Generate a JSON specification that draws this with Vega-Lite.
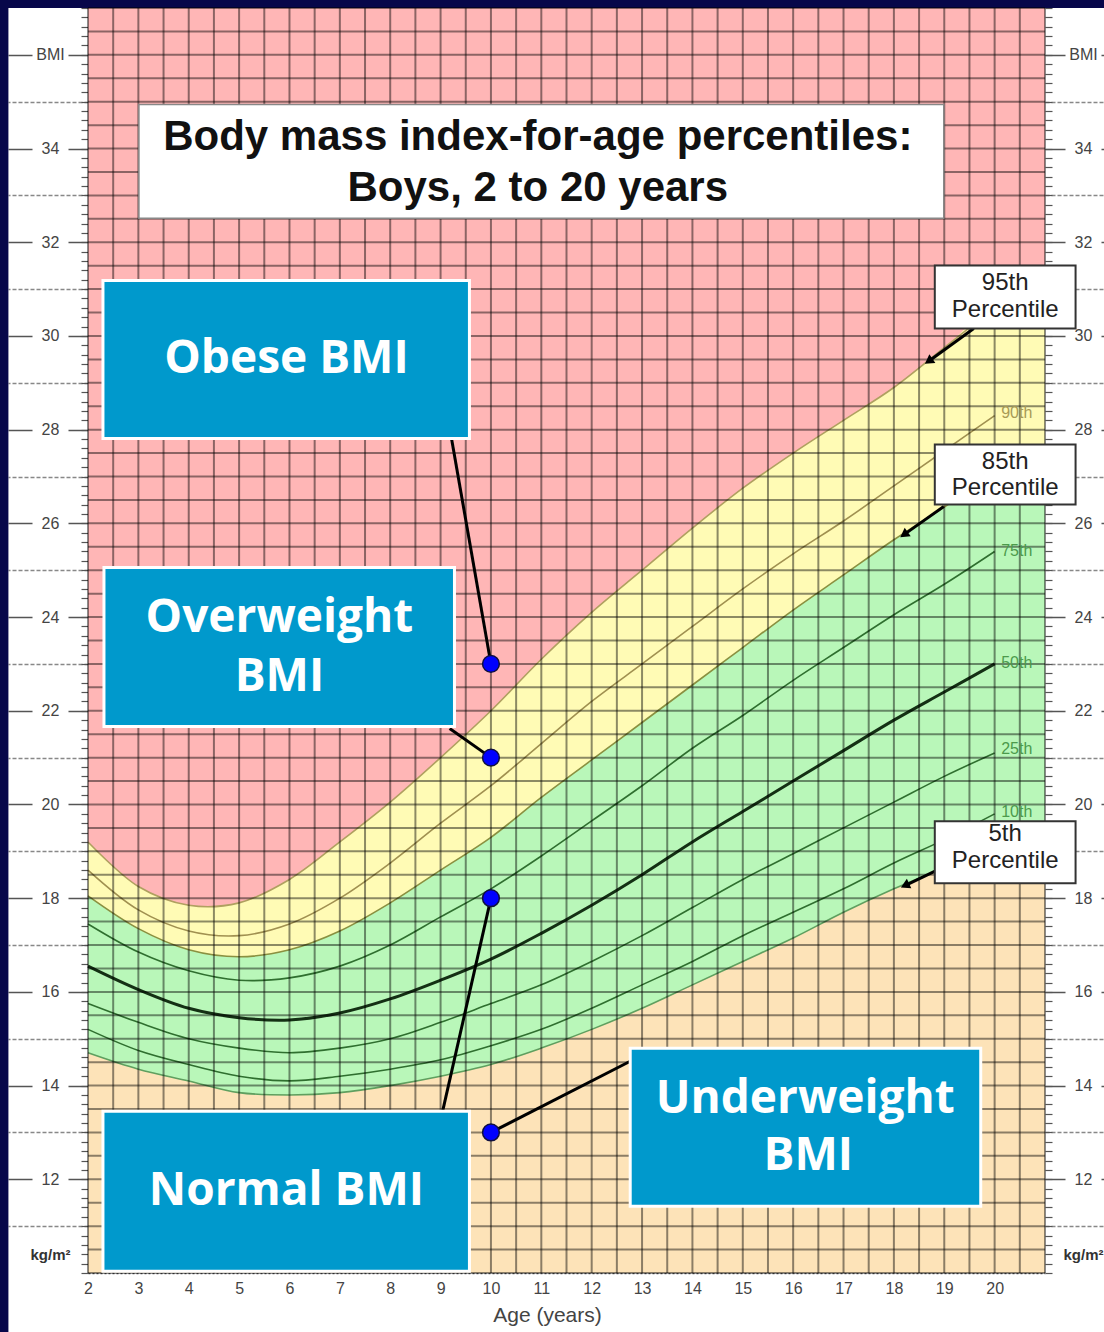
{
  "$schema": "https://vega.github.io/schema/vega-lite/v6.json",
  "width": 957,
  "height": 1265,
  "autosize": {"type": "none"},
  "padding": {"left": 88, "top": 8, "right": 59, "bottom": 59},
  "background": "white",
  "config": {"view": {"stroke": null}, "font": "Liberation Sans"},
  "datasets": {
    "pct": [
      {"age": 2, "p5": 14.7, "p10": 15.2, "p25": 15.75, "p50": 16.55, "p75": 17.45, "p85": 18.05, "p90": 18.6, "p95": 19.2},
      {"age": 3, "p5": 14.35, "p10": 14.75, "p25": 15.35, "p50": 16.05, "p75": 16.85, "p85": 17.35, "p90": 17.75, "p95": 18.25},
      {"age": 4, "p5": 14.1, "p10": 14.45, "p25": 15.0, "p50": 15.65, "p75": 16.45, "p85": 16.9, "p90": 17.3, "p95": 17.85},
      {"age": 5, "p5": 13.85, "p10": 14.2, "p25": 14.8, "p50": 15.45, "p75": 16.25, "p85": 16.75, "p90": 17.2, "p95": 17.9},
      {"age": 6, "p5": 13.8, "p10": 14.1, "p25": 14.7, "p50": 15.4, "p75": 16.3, "p85": 16.9, "p90": 17.45, "p95": 18.4},
      {"age": 7, "p5": 13.85, "p10": 14.2, "p25": 14.8, "p50": 15.55, "p75": 16.55, "p85": 17.3, "p90": 18.0, "p95": 19.2},
      {"age": 8, "p5": 14.0, "p10": 14.35, "p25": 15.0, "p50": 15.85, "p75": 17.0, "p85": 17.9, "p90": 18.75, "p95": 20.05},
      {"age": 9, "p5": 14.2, "p10": 14.55, "p25": 15.35, "p50": 16.25, "p75": 17.6, "p85": 18.6, "p90": 19.6, "p95": 21.0},
      {"age": 10, "p5": 14.45, "p10": 14.85, "p25": 15.75, "p50": 16.7, "p75": 18.2, "p85": 19.3, "p90": 20.4, "p95": 22.0},
      {"age": 11, "p5": 14.8, "p10": 15.2, "p25": 16.15, "p50": 17.25, "p75": 18.9, "p85": 20.15, "p90": 21.3, "p95": 23.1},
      {"age": 12, "p5": 15.2, "p10": 15.65, "p25": 16.65, "p50": 17.85, "p75": 19.65, "p85": 20.95, "p90": 22.2, "p95": 24.1},
      {"age": 13, "p5": 15.65, "p10": 16.15, "p25": 17.2, "p50": 18.5, "p75": 20.4, "p85": 21.75, "p90": 23.0, "p95": 25.0},
      {"age": 14, "p5": 16.15, "p10": 16.65, "p25": 17.8, "p50": 19.2, "p75": 21.2, "p85": 22.55, "p90": 23.8, "p95": 25.9},
      {"age": 15, "p5": 16.65, "p10": 17.2, "p25": 18.4, "p50": 19.85, "p75": 21.9, "p85": 23.35, "p90": 24.6, "p95": 26.75},
      {"age": 16, "p5": 17.15, "p10": 17.7, "p25": 18.95, "p50": 20.5, "p75": 22.65, "p85": 24.15, "p90": 25.35, "p95": 27.5},
      {"age": 17, "p5": 17.7, "p10": 18.2, "p25": 19.5, "p50": 21.15, "p75": 23.35, "p85": 24.9, "p90": 26.05, "p95": 28.2},
      {"age": 18, "p5": 18.2, "p10": 18.75, "p25": 20.05, "p50": 21.8, "p75": 24.05, "p85": 25.65, "p90": 26.8, "p95": 28.9},
      {"age": 19, "p5": 18.65, "p10": 19.25, "p25": 20.6, "p50": 22.4, "p75": 24.7, "p85": 26.35, "p90": 27.55, "p95": 29.75},
      {"age": 20, "p5": 19.1, "p10": 19.8, "p25": 21.1, "p50": 23.0, "p75": 25.4, "p85": 27.05, "p90": 28.3, "p95": 30.6},
      {"age": 21, "p5": 19.1, "p10": 19.8, "p25": 21.1, "p50": 23.0, "p75": 25.4, "p85": 27.05, "p90": 28.3, "p95": 30.6}
    ],
    "gx": [
      {"v": 2}, {"v": 2.5}, {"v": 3}, {"v": 3.5}, {"v": 4}, {"v": 4.5}, {"v": 5}, {"v": 5.5}, {"v": 6}, {"v": 6.5},
      {"v": 7}, {"v": 7.5}, {"v": 8}, {"v": 8.5}, {"v": 9}, {"v": 9.5}, {"v": 10}, {"v": 10.5}, {"v": 11}, {"v": 11.5},
      {"v": 12}, {"v": 12.5}, {"v": 13}, {"v": 13.5}, {"v": 14}, {"v": 14.5}, {"v": 15}, {"v": 15.5}, {"v": 16}, {"v": 16.5},
      {"v": 17}, {"v": 17.5}, {"v": 18}, {"v": 18.5}, {"v": 19}, {"v": 19.5}, {"v": 20}, {"v": 20.5}, {"v": 21}
    ],
    "gy": [
      {"v": 10}, {"v": 10.5}, {"v": 11}, {"v": 11.5}, {"v": 12}, {"v": 12.5}, {"v": 13}, {"v": 13.5}, {"v": 14}, {"v": 14.5},
      {"v": 15}, {"v": 15.5}, {"v": 16}, {"v": 16.5}, {"v": 17}, {"v": 17.5}, {"v": 18}, {"v": 18.5}, {"v": 19}, {"v": 19.5},
      {"v": 20}, {"v": 20.5}, {"v": 21}, {"v": 21.5}, {"v": 22}, {"v": 22.5}, {"v": 23}, {"v": 23.5}, {"v": 24}, {"v": 24.5},
      {"v": 25}, {"v": 25.5}, {"v": 26}, {"v": 26.5}, {"v": 27}, {"v": 27.5}, {"v": 28}, {"v": 28.5}, {"v": 29}, {"v": 29.5},
      {"v": 30}, {"v": 30.5}, {"v": 31}, {"v": 31.5}, {"v": 32}, {"v": 32.5}, {"v": 33}, {"v": 33.5}, {"v": 34}, {"v": 34.5},
      {"v": 35}, {"v": 35.5}, {"v": 36}, {"v": 36.5}, {"v": 37}
    ]
  },
  "layer": [
    {
      "data": {"values": [{}]},
      "mark": {"type": "rect", "color": "#07074a"},
      "encoding": {
        "x": {"datum": -3, "type": "quantitative", "scale": {"domain": [2, 21], "nice": false, "zero": false}, "axis": null},
        "x2": {"datum": 0.42},
        "y": {"datum": 0, "type": "quantitative", "scale": {"domain": [10, 37], "nice": false, "zero": false}, "axis": null},
        "y2": {"datum": 45}
      }
    },
    {
      "data": {"values": [{}]},
      "mark": {"type": "rect", "color": "#07074a"},
      "encoding": {
        "x": {"datum": -3, "type": "quantitative", "scale": {"domain": [2, 21], "nice": false, "zero": false}, "axis": null},
        "x2": {"datum": 26},
        "y": {"datum": 37, "type": "quantitative", "scale": {"domain": [10, 37], "nice": false, "zero": false}, "axis": null},
        "y2": {"datum": 45}
      }
    },
    {
      "data": {"values": [{}]},
      "mark": {"type": "rect", "color": "#FDE3B8"},
      "encoding": {
        "x": {"datum": 2, "type": "quantitative", "scale": {"domain": [2, 21], "nice": false, "zero": false}, "axis": null},
        "x2": {"datum": 21},
        "y": {"datum": 10, "type": "quantitative", "scale": {"domain": [10, 37], "nice": false, "zero": false}, "axis": null},
        "y2": {"datum": 37}
      }
    },
    {
      "data": {"name": "pct"},
      "mark": {"type": "area", "color": "#B9F7B9", "interpolate": "catmull-rom"},
      "encoding": {
        "x": {"field": "age", "type": "quantitative", "scale": {"domain": [2, 21], "nice": false, "zero": false}, "axis": null},
        "y": {"field": "p5", "type": "quantitative", "scale": {"domain": [10, 37], "nice": false, "zero": false}, "axis": null},
        "y2": {"field": "p85"}
      }
    },
    {
      "data": {"name": "pct"},
      "mark": {"type": "area", "color": "#FFFBB5", "interpolate": "catmull-rom"},
      "encoding": {
        "x": {"field": "age", "type": "quantitative", "scale": {"domain": [2, 21], "nice": false, "zero": false}, "axis": null},
        "y": {"field": "p85", "type": "quantitative", "scale": {"domain": [10, 37], "nice": false, "zero": false}, "axis": null},
        "y2": {"field": "p95"}
      }
    },
    {
      "data": {"name": "pct"},
      "mark": {"type": "area", "color": "#FFB6B6", "interpolate": "catmull-rom"},
      "encoding": {
        "x": {"field": "age", "type": "quantitative", "scale": {"domain": [2, 21], "nice": false, "zero": false}, "axis": null},
        "y": {"field": "p95", "type": "quantitative", "scale": {"domain": [10, 37], "nice": false, "zero": false}, "axis": null},
        "y2": {"datum": 37}
      }
    },
    {
      "data": {"name": "pct"},
      "transform": [
        {"filter": "datum.age <= 20"},
        {"fold": ["p5", "p10", "p25", "p75", "p85", "p90", "p95"], "as": ["k", "val"]}
      ],
      "mark": {"type": "line", "interpolate": "catmull-rom", "strokeWidth": 1.6},
      "encoding": {
        "x": {"field": "age", "type": "quantitative", "scale": {"domain": [2, 21], "nice": false, "zero": false}, "axis": null},
        "y": {"field": "val", "type": "quantitative", "scale": {"domain": [10, 37], "nice": false, "zero": false}, "axis": null},
        "color": {
          "field": "k", "type": "nominal", "legend": null,
          "scale": {"domain": ["p5", "p10", "p25", "p75", "p85", "p90", "p95"], "range": ["#5f9f5f", "#2f6f2f", "#2f6f2f", "#2f6f2f", "#8a9040", "#a09050", "#b0a060"]}
        }
      }
    },
    {
      "data": {"name": "pct"},
      "transform": [{"filter": "datum.age <= 20"}],
      "mark": {"type": "line", "interpolate": "catmull-rom", "strokeWidth": 3, "color": "#143014"},
      "encoding": {
        "x": {"field": "age", "type": "quantitative", "scale": {"domain": [2, 21], "nice": false, "zero": false}, "axis": null},
        "y": {"field": "p50", "type": "quantitative", "scale": {"domain": [10, 37], "nice": false, "zero": false}, "axis": null}
      }
    },
    {
      "data": {"name": "gx"},
      "mark": {"type": "rule", "color": "#000000", "opacity": 0.45, "strokeWidth": 2},
      "encoding": {
        "x": {"field": "v", "type": "quantitative", "scale": {"domain": [2, 21], "nice": false, "zero": false}, "axis": null}
      }
    },
    {
      "data": {"name": "gy"},
      "mark": {"type": "rule", "color": "#000000", "opacity": 0.45, "strokeWidth": 2},
      "encoding": {
        "y": {"field": "v", "type": "quantitative", "scale": {"domain": [10, 37], "nice": false, "zero": false}, "axis": null}
      }
    },
    {
      "data": {"values": [{"x1": 3.011, "x2": 18.99, "y1": 32.51, "y2": 34.94}]},
      "mark": {"type": "rect", "fill": "white", "stroke": "#888888", "strokeWidth": 1.5},
      "encoding": {
        "x": {"field": "x1", "type": "quantitative", "scale": {"domain": [2, 21], "nice": false, "zero": false}, "axis": null},
        "x2": {"field": "x2"},
        "y": {"field": "y1", "type": "quantitative", "scale": {"domain": [10, 37], "nice": false, "zero": false}, "axis": null},
        "y2": {"field": "y2"}
      }
    },
    {
      "data": {"values": [
        {"a": 10.93, "b": 34.24, "t": "Body mass index-for-age percentiles:"},
        {"a": 10.93, "b": 33.15, "t": "Boys, 2 to 20 years"}
      ]},
      "mark": {"type": "text", "font": "Liberation Sans", "fontWeight": "bold", "fontSize": 42, "color": "#111111", "align": "center", "baseline": "middle"},
      "encoding": {
        "x": {"field": "a", "type": "quantitative", "scale": {"domain": [2, 21], "nice": false, "zero": false}, "axis": null},
        "y": {"field": "b", "type": "quantitative", "scale": {"domain": [10, 37], "nice": false, "zero": false}, "axis": null},
        "text": {"field": "t"}
      }
    },
    {
      "data": {"values": [
        {"x1": 9.217, "y1": 27.81, "x2": 10, "y2": 23},
        {"x1": 9.18, "y1": 21.62, "x2": 10, "y2": 21},
        {"x1": 9.04, "y1": 13.45, "x2": 10, "y2": 18},
        {"x1": 12.765, "y1": 14.52, "x2": 10, "y2": 13}
      ]},
      "mark": {"type": "rule", "color": "#000000", "strokeWidth": 3},
      "encoding": {
        "x": {"field": "x1", "type": "quantitative", "scale": {"domain": [2, 21], "nice": false, "zero": false}, "axis": null},
        "x2": {"field": "x2"},
        "y": {"field": "y1", "type": "quantitative", "scale": {"domain": [10, 37], "nice": false, "zero": false}, "axis": null},
        "y2": {"field": "y2"}
      }
    },
    {
      "data": {"values": [
        {"x1": 2.297, "x2": 9.573, "y1": 27.81, "y2": 31.185},
        {"x1": 2.317, "x2": 9.276, "y1": 21.667, "y2": 25.06},
        {"x1": 2.297, "x2": 9.573, "y1": 10.037, "y2": 13.451},
        {"x1": 12.765, "x2": 19.724, "y1": 11.424, "y2": 14.796}
      ]},
      "mark": {"type": "rect", "fill": "#0099CC", "stroke": "white", "strokeWidth": 3},
      "encoding": {
        "x": {"field": "x1", "type": "quantitative", "scale": {"domain": [2, 21], "nice": false, "zero": false}, "axis": null},
        "x2": {"field": "x2"},
        "y": {"field": "y1", "type": "quantitative", "scale": {"domain": [10, 37], "nice": false, "zero": false}, "axis": null},
        "y2": {"field": "y2"}
      }
    },
    {
      "data": {"values": [
        {"a": 5.94, "b": 29.5, "t": "Obese BMI"},
        {"a": 5.8, "b": 23.97, "t": "Overweight"},
        {"a": 5.8, "b": 22.73, "t": "BMI"},
        {"a": 5.94, "b": 11.74, "t": "Normal BMI"},
        {"a": 16.24, "b": 13.71, "t": "Underweight"},
        {"a": 16.3, "b": 12.49, "t": "BMI"}
      ]},
      "mark": {"type": "text", "font": "Open Sans", "fontWeight": "bold", "fontSize": 46, "color": "white", "align": "center", "baseline": "middle"},
      "encoding": {
        "x": {"field": "a", "type": "quantitative", "scale": {"domain": [2, 21], "nice": false, "zero": false}, "axis": null},
        "y": {"field": "b", "type": "quantitative", "scale": {"domain": [10, 37], "nice": false, "zero": false}, "axis": null},
        "text": {"field": "t"}
      }
    },
    {
      "data": {"values": [{"a": 10, "b": 23}, {"a": 10, "b": 21}, {"a": 10, "b": 18}, {"a": 10, "b": 13}]},
      "mark": {"type": "point", "shape": "circle", "filled": true, "fill": "#0000FF", "stroke": "#101040", "strokeWidth": 1.5, "size": 280, "opacity": 1},
      "encoding": {
        "x": {"field": "a", "type": "quantitative", "scale": {"domain": [2, 21], "nice": false, "zero": false}, "axis": null},
        "y": {"field": "b", "type": "quantitative", "scale": {"domain": [10, 37], "nice": false, "zero": false}, "axis": null}
      }
    },
    {
      "data": {"values": [
        {"x1": 19.585, "y1": 30.16, "x2": 18.69, "y2": 29.46},
        {"x1": 18.99, "y1": 26.36, "x2": 18.2, "y2": 25.76},
        {"x1": 18.89, "y1": 18.615, "x2": 18.22, "y2": 18.27}
      ]},
      "mark": {"type": "rule", "color": "#000000", "strokeWidth": 3},
      "encoding": {
        "x": {"field": "x1", "type": "quantitative", "scale": {"domain": [2, 21], "nice": false, "zero": false}, "axis": null},
        "x2": {"field": "x2"},
        "y": {"field": "y1", "type": "quantitative", "scale": {"domain": [10, 37], "nice": false, "zero": false}, "axis": null},
        "y2": {"field": "y2"}
      }
    },
    {
      "data": {"values": [{"a": 18.69, "b": 29.46}, {"a": 18.2, "b": 25.76}]},
      "mark": {"type": "point", "shape": "triangle-up", "filled": true, "color": "#000000", "size": 110, "angle": 235, "opacity": 1},
      "encoding": {
        "x": {"field": "a", "type": "quantitative", "scale": {"domain": [2, 21], "nice": false, "zero": false}, "axis": null},
        "y": {"field": "b", "type": "quantitative", "scale": {"domain": [10, 37], "nice": false, "zero": false}, "axis": null}
      }
    },
    {
      "data": {"values": [{"a": 18.22, "b": 18.27}]},
      "mark": {"type": "point", "shape": "triangle-up", "filled": true, "color": "#000000", "size": 110, "angle": 245, "opacity": 1},
      "encoding": {
        "x": {"field": "a", "type": "quantitative", "scale": {"domain": [2, 21], "nice": false, "zero": false}, "axis": null},
        "y": {"field": "b", "type": "quantitative", "scale": {"domain": [10, 37], "nice": false, "zero": false}, "axis": null}
      }
    },
    {
      "data": {"values": [
        {"x1": 18.812, "x2": 21.607, "y1": 30.16, "y2": 31.505},
        {"x1": 18.812, "x2": 21.607, "y1": 26.405, "y2": 27.685},
        {"x1": 18.812, "x2": 21.607, "y1": 18.317, "y2": 19.64}
      ]},
      "mark": {"type": "rect", "fill": "white", "stroke": "#333333", "strokeWidth": 2},
      "encoding": {
        "x": {"field": "x1", "type": "quantitative", "scale": {"domain": [2, 21], "nice": false, "zero": false}, "axis": null},
        "x2": {"field": "x2"},
        "y": {"field": "y1", "type": "quantitative", "scale": {"domain": [10, 37], "nice": false, "zero": false}, "axis": null},
        "y2": {"field": "y2"}
      }
    },
    {
      "data": {"values": [
        {"a": 20.21, "b": 31.12, "t": "95th"},
        {"a": 20.21, "b": 30.55, "t": "Percentile"},
        {"a": 20.21, "b": 27.32, "t": "85th"},
        {"a": 20.21, "b": 26.75, "t": "Percentile"},
        {"a": 20.21, "b": 19.36, "t": "5th"},
        {"a": 20.21, "b": 18.79, "t": "Percentile"}
      ]},
      "mark": {"type": "text", "font": "Liberation Sans", "fontSize": 24, "color": "#222222", "align": "center", "baseline": "middle"},
      "encoding": {
        "x": {"field": "a", "type": "quantitative", "scale": {"domain": [2, 21], "nice": false, "zero": false}, "axis": null},
        "y": {"field": "b", "type": "quantitative", "scale": {"domain": [10, 37], "nice": false, "zero": false}, "axis": null},
        "text": {"field": "t"}
      }
    },
    {
      "data": {"values": [{"a": 20.13, "b": 28.35, "t": "90th"}]},
      "mark": {"type": "text", "font": "Liberation Sans", "fontSize": 16, "color": "#a89a55", "align": "left", "baseline": "middle"},
      "encoding": {
        "x": {"field": "a", "type": "quantitative", "scale": {"domain": [2, 21], "nice": false, "zero": false}, "axis": null},
        "y": {"field": "b", "type": "quantitative", "scale": {"domain": [10, 37], "nice": false, "zero": false}, "axis": null},
        "text": {"field": "t"}
      }
    },
    {
      "data": {"values": [
        {"a": 20.13, "b": 25.4, "t": "75th"},
        {"a": 20.13, "b": 23.01, "t": "50th"},
        {"a": 20.13, "b": 21.18, "t": "25th"},
        {"a": 20.13, "b": 19.85, "t": "10th"}
      ]},
      "mark": {"type": "text", "font": "Liberation Sans", "fontSize": 16, "color": "#4c9a4c", "align": "left", "baseline": "middle"},
      "encoding": {
        "x": {"field": "a", "type": "quantitative", "scale": {"domain": [2, 21], "nice": false, "zero": false}, "axis": null},
        "y": {"field": "b", "type": "quantitative", "scale": {"domain": [10, 37], "nice": false, "zero": false}, "axis": null},
        "text": {"field": "t"}
      }
    },
    {
      "data": {"values": [{"v": 15}]},
      "mark": {"type": "point", "opacity": 0},
      "encoding": {
        "x": {"field": "v", "type": "quantitative", "scale": {"domain": [2, 21], "nice": false, "zero": false},
          "axis": {"orient": "bottom", "values": [2, 3, 4, 5, 6, 7, 8, 9, 10, 11, 12, 13, 14, 15, 16, 17, 18, 19, 20], "ticks": false, "labelPadding": 7, "labelFontSize": 16, "labelColor": "#444444", "labelFlush": false, "labelOverlap": false, "domain": true, "domainColor": "#555555", "domainDash": [2, 2], "domainWidth": 1.5, "grid": false, "title": "Age (years)", "titleFontSize": 21, "titleFontWeight": "normal", "titleColor": "#444444", "titlePadding": 8, "titleX": 459}},
        "y": {"field": "v", "type": "quantitative", "scale": {"domain": [10, 37], "nice": false, "zero": false},
          "axis": {"orient": "left", "values": [12, 14, 16, 18, 20, 22, 24, 26, 28, 30, 32, 34, 36], "labelExpr": "datum.value == 36 ? 'BMI' : datum.label", "tickSize": 80, "tickDash": [20, 36, 30], "tickColor": "#555555", "tickWidth": 1.5, "labelPadding": -42, "labelAlign": "center", "labelFontSize": 16, "labelColor": "#444444", "labelOverlap": false, "labelFlush": false, "labelBound": false, "domain": false, "grid": false, "title": null}}
      }
    },
    {
      "data": {"values": [{"v": 15}]},
      "mark": {"type": "point", "opacity": 0},
      "encoding": {
        "x": {"field": "v", "type": "quantitative", "scale": {"domain": [2, 21], "nice": false, "zero": false}, "axis": null},
        "y": {"field": "v", "type": "quantitative", "scale": {"domain": [10, 37], "nice": false, "zero": false},
          "axis": {"orient": "right", "values": [12, 14, 16, 18, 20, 22, 24, 26, 28, 30, 32, 34, 36], "labelExpr": "datum.value == 36 ? 'BMI' : datum.label", "tickSize": 80, "tickDash": [20, 36, 30], "tickColor": "#555555", "tickWidth": 1.5, "labelPadding": -42, "labelAlign": "center", "labelFontSize": 16, "labelColor": "#444444", "labelOverlap": false, "labelFlush": false, "labelBound": false, "domain": false, "grid": false, "title": null}}
      }
    },
    {
      "data": {"values": [{"v": 15}]},
      "mark": {"type": "point", "opacity": 0},
      "encoding": {
        "x": {"field": "v", "type": "quantitative", "scale": {"domain": [2, 21], "nice": false, "zero": false}, "axis": null},
        "y": {"field": "v", "type": "quantitative", "scale": {"domain": [10, 37], "nice": false, "zero": false},
          "axis": {"orient": "left", "values": [11, 13, 15, 17, 19, 21, 23, 25, 27, 29, 31, 33, 35], "labels": false, "tickSize": 80, "tickDash": [4, 2], "tickColor": "#888888", "tickWidth": 1.5, "domain": false, "grid": false, "title": null}}
      }
    },
    {
      "data": {"values": [{"v": 15}]},
      "mark": {"type": "point", "opacity": 0},
      "encoding": {
        "x": {"field": "v", "type": "quantitative", "scale": {"domain": [2, 21], "nice": false, "zero": false}, "axis": null},
        "y": {"field": "v", "type": "quantitative", "scale": {"domain": [10, 37], "nice": false, "zero": false},
          "axis": {"orient": "right", "values": [11, 13, 15, 17, 19, 21, 23, 25, 27, 29, 31, 33, 35], "labels": false, "tickSize": 80, "tickDash": [4, 2], "tickColor": "#888888", "tickWidth": 1.5, "domain": false, "grid": false, "title": null}}
      }
    },
    {
      "data": {"values": [{"v": 15}]},
      "mark": {"type": "point", "opacity": 0},
      "encoding": {
        "x": {"field": "v", "type": "quantitative", "scale": {"domain": [2, 21], "nice": false, "zero": false}, "axis": null},
        "y": {"field": "v", "type": "quantitative", "scale": {"domain": [10, 37], "nice": false, "zero": false},
          "axis": {"orient": "left", "tickCount": 135, "labelExpr": "abs(datum.value - 10.4) < 0.01 ? 'kg/m²' : ''", "tickSize": 7, "tickColor": "#555555", "tickWidth": 1.2, "labelPadding": 31, "labelAlign": "center", "labelFontSize": 15, "labelFontWeight": "bold", "labelColor": "#333333", "labelOverlap": false, "labelFlush": false, "labelBound": false, "domain": false, "grid": false, "title": null}}
      }
    },
    {
      "data": {"values": [{"v": 15}]},
      "mark": {"type": "point", "opacity": 0},
      "encoding": {
        "x": {"field": "v", "type": "quantitative", "scale": {"domain": [2, 21], "nice": false, "zero": false}, "axis": null},
        "y": {"field": "v", "type": "quantitative", "scale": {"domain": [10, 37], "nice": false, "zero": false},
          "axis": {"orient": "right", "tickCount": 135, "labelExpr": "abs(datum.value - 10.4) < 0.01 ? 'kg/m²' : ''", "tickSize": 7, "tickColor": "#555555", "tickWidth": 1.2, "labelPadding": 31, "labelAlign": "center", "labelFontSize": 15, "labelFontWeight": "bold", "labelColor": "#333333", "labelOverlap": false, "labelFlush": false, "labelBound": false, "domain": false, "grid": false, "title": null}}
      }
    }
  ],
  "resolve": {"axis": {"x": "independent", "y": "independent"}}
}
